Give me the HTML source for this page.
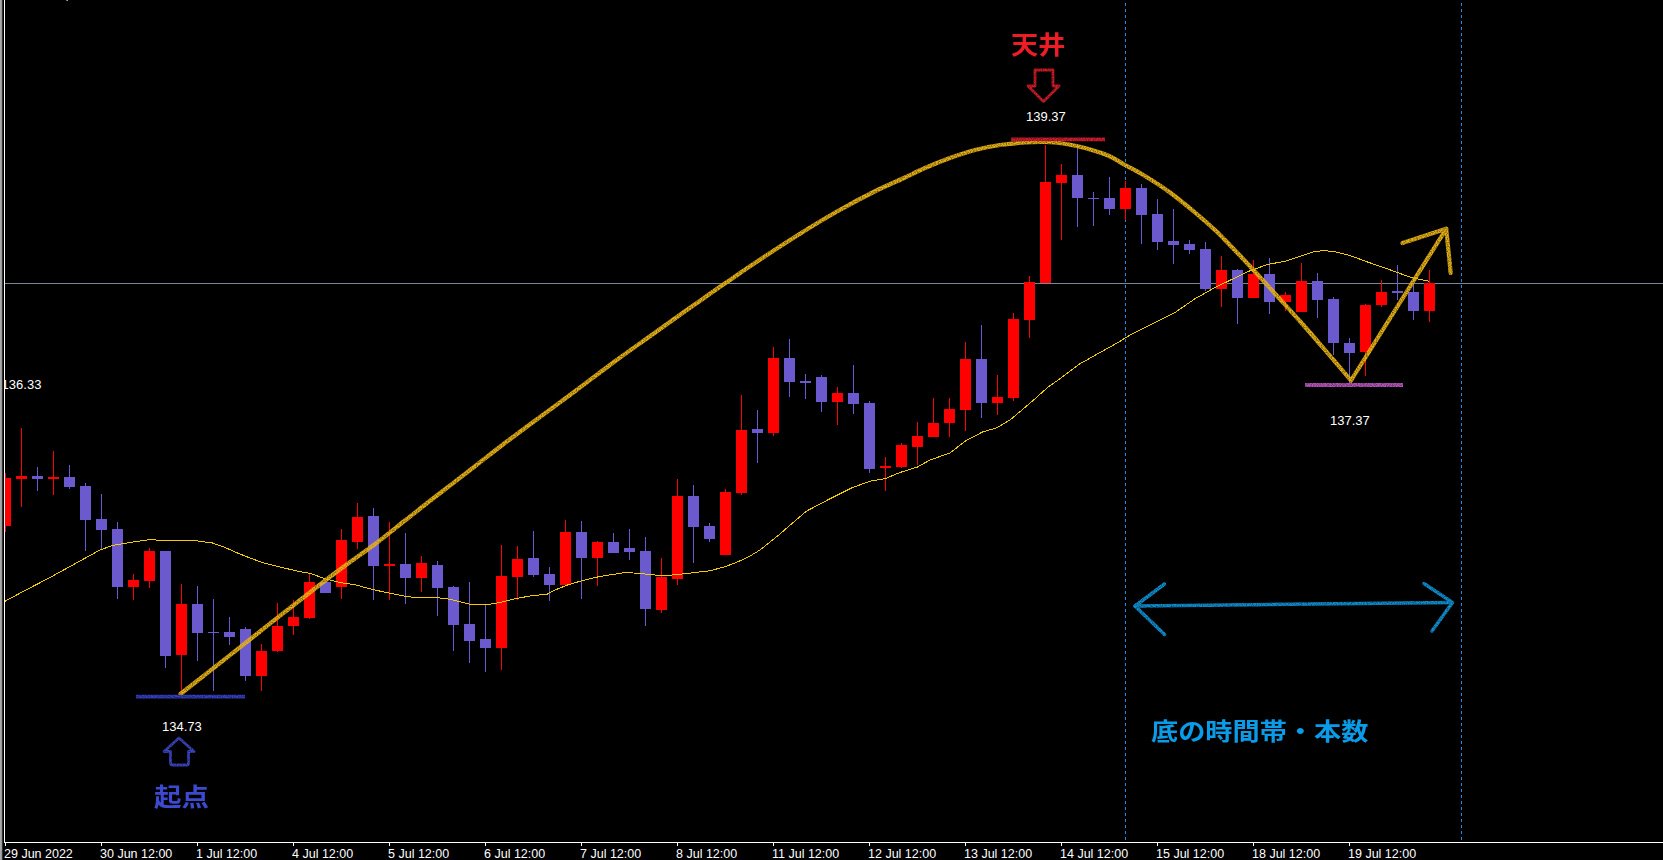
<!DOCTYPE html>
<html lang="ja"><head><meta charset="utf-8"><title>chart</title>
<style>
html,body{margin:0;padding:0;background:#000;}
body{width:1663px;height:860px;position:relative;overflow:hidden;font-family:"Liberation Sans","Noto Sans CJK JP",sans-serif;}
svg{position:absolute;left:0;top:0;}
.xl{position:absolute;top:847px;color:#fff;font-size:12.5px;line-height:14px;white-space:nowrap;}
.pl{position:absolute;color:#fff;font-size:13px;line-height:14px;white-space:nowrap;}
.jp{position:absolute;font-weight:bold;font-size:26.5px;line-height:30px;white-space:nowrap;transform-origin:left bottom;font-family:"Liberation Sans","Noto Sans CJK JP",sans-serif;}
#clip{position:absolute;left:5px;top:0;width:200px;height:842px;overflow:hidden;}
</style></head><body>
<svg width="1663" height="860" viewBox="0 0 1663 860">
<defs>
<filter id="rough" filterUnits="userSpaceOnUse" x="0" y="0" width="1663" height="860"><feTurbulence type="fractalNoise" baseFrequency="0.8" numOctaves="1" seed="3" result="n"/><feColorMatrix in="n" type="matrix" values="0 0 0 0 0  0 0 0 0 0  0 0 0 0 0  0 0 0 -1.3 1.5" result="a"/><feGaussianBlur in="SourceGraphic" stdDeviation="0.7" result="b"/><feComposite in="b" in2="a" operator="in"/></filter>
</defs>
<g shape-rendering="crispEdges">
<rect x="0" y="0" width="1" height="860" fill="#a8a8a8"/><rect x="1" y="0" width="1" height="860" fill="#9a9a9a"/><rect x="2" y="0" width="1" height="860" fill="#303030"/>
<rect x="4" y="0" width="1" height="843" fill="#fff"/>
<rect x="66" y="0" width="1" height="1" fill="#2a7fd0"/><rect x="67" y="0" width="1" height="1" fill="#f09020"/>
<rect x="5" y="283" width="1658" height="1" fill="#778899"/>
<line x1="1125.5" y1="3" x2="1125.5" y2="840" stroke="#1e8ae6" stroke-width="1" stroke-dasharray="3 3"/>
<line x1="1461.5" y1="3" x2="1461.5" y2="840" stroke="#1e8ae6" stroke-width="1" stroke-dasharray="3 3"/>
<rect x="5" y="473" width="1" height="59" fill="#ff0000"/><rect x="5" y="478" width="6" height="48" fill="#ff0000"/>
<rect x="21" y="428" width="1" height="79" fill="#ff0000"/><rect x="16" y="476" width="11" height="3" fill="#ff0000"/>
<rect x="37" y="467" width="1" height="24" fill="#6a5acd"/><rect x="32" y="476" width="11" height="3" fill="#6a5acd"/>
<rect x="53" y="451" width="1" height="44" fill="#ff0000"/><rect x="48" y="477" width="11" height="2" fill="#ff0000"/>
<rect x="69" y="465" width="1" height="24" fill="#6a5acd"/><rect x="64" y="477" width="11" height="10" fill="#6a5acd"/>
<rect x="85" y="483" width="1" height="68" fill="#6a5acd"/><rect x="80" y="486" width="11" height="34" fill="#6a5acd"/>
<rect x="101" y="494" width="1" height="55" fill="#6a5acd"/><rect x="96" y="519" width="11" height="11" fill="#6a5acd"/>
<rect x="117" y="522" width="1" height="77" fill="#6a5acd"/><rect x="112" y="529" width="11" height="58" fill="#6a5acd"/>
<rect x="133" y="574" width="1" height="26" fill="#ff0000"/><rect x="128" y="580" width="11" height="7" fill="#ff0000"/>
<rect x="149" y="548" width="1" height="40" fill="#ff0000"/><rect x="144" y="551" width="11" height="30" fill="#ff0000"/>
<rect x="165" y="551" width="1" height="117" fill="#6a5acd"/><rect x="160" y="551" width="11" height="105" fill="#6a5acd"/>
<rect x="181" y="584" width="1" height="110" fill="#ff0000"/><rect x="176" y="604" width="11" height="51" fill="#ff0000"/>
<rect x="197" y="586" width="1" height="75" fill="#6a5acd"/><rect x="192" y="604" width="11" height="29" fill="#6a5acd"/>
<rect x="213" y="599" width="1" height="92" fill="#6a5acd"/><rect x="208" y="632" width="11" height="1" fill="#6a5acd"/>
<rect x="229" y="617" width="1" height="28" fill="#6a5acd"/><rect x="224" y="632" width="11" height="5" fill="#6a5acd"/>
<rect x="245" y="627" width="1" height="54" fill="#6a5acd"/><rect x="240" y="629" width="11" height="47" fill="#6a5acd"/>
<rect x="261" y="644" width="1" height="47" fill="#ff0000"/><rect x="256" y="651" width="11" height="25" fill="#ff0000"/>
<rect x="277" y="603" width="1" height="49" fill="#ff0000"/><rect x="272" y="626" width="11" height="25" fill="#ff0000"/>
<rect x="293" y="600" width="1" height="35" fill="#ff0000"/><rect x="288" y="617" width="11" height="9" fill="#ff0000"/>
<rect x="309" y="574" width="1" height="45" fill="#ff0000"/><rect x="304" y="582" width="11" height="36" fill="#ff0000"/>
<rect x="325" y="582" width="1" height="11" fill="#6a5acd"/><rect x="320" y="582" width="11" height="11" fill="#6a5acd"/>
<rect x="341" y="529" width="1" height="70" fill="#ff0000"/><rect x="336" y="540" width="11" height="47" fill="#ff0000"/>
<rect x="357" y="503" width="1" height="46" fill="#ff0000"/><rect x="352" y="517" width="11" height="25" fill="#ff0000"/>
<rect x="373" y="508" width="1" height="92" fill="#6a5acd"/><rect x="368" y="516" width="11" height="50" fill="#6a5acd"/>
<rect x="389" y="522" width="1" height="78" fill="#ff0000"/><rect x="384" y="564" width="11" height="2" fill="#ff0000"/>
<rect x="405" y="533" width="1" height="71" fill="#6a5acd"/><rect x="400" y="564" width="11" height="14" fill="#6a5acd"/>
<rect x="421" y="556" width="1" height="36" fill="#ff0000"/><rect x="416" y="563" width="11" height="15" fill="#ff0000"/>
<rect x="437" y="561" width="1" height="55" fill="#6a5acd"/><rect x="432" y="565" width="11" height="23" fill="#6a5acd"/>
<rect x="453" y="586" width="1" height="65" fill="#6a5acd"/><rect x="448" y="587" width="11" height="38" fill="#6a5acd"/>
<rect x="469" y="582" width="1" height="81" fill="#6a5acd"/><rect x="464" y="624" width="11" height="17" fill="#6a5acd"/>
<rect x="485" y="605" width="1" height="67" fill="#6a5acd"/><rect x="480" y="639" width="11" height="9" fill="#6a5acd"/>
<rect x="501" y="545" width="1" height="125" fill="#ff0000"/><rect x="496" y="576" width="11" height="72" fill="#ff0000"/>
<rect x="517" y="546" width="1" height="54" fill="#ff0000"/><rect x="512" y="559" width="11" height="18" fill="#ff0000"/>
<rect x="533" y="531" width="1" height="46" fill="#6a5acd"/><rect x="528" y="558" width="11" height="17" fill="#6a5acd"/>
<rect x="549" y="567" width="1" height="34" fill="#6a5acd"/><rect x="544" y="574" width="11" height="11" fill="#6a5acd"/>
<rect x="565" y="520" width="1" height="65" fill="#ff0000"/><rect x="560" y="532" width="11" height="53" fill="#ff0000"/>
<rect x="581" y="521" width="1" height="78" fill="#6a5acd"/><rect x="576" y="532" width="11" height="26" fill="#6a5acd"/>
<rect x="597" y="541" width="1" height="45" fill="#ff0000"/><rect x="592" y="542" width="11" height="16" fill="#ff0000"/>
<rect x="613" y="533" width="1" height="20" fill="#6a5acd"/><rect x="608" y="542" width="11" height="11" fill="#6a5acd"/>
<rect x="629" y="529" width="1" height="31" fill="#6a5acd"/><rect x="624" y="548" width="11" height="4" fill="#6a5acd"/>
<rect x="645" y="537" width="1" height="89" fill="#6a5acd"/><rect x="640" y="551" width="11" height="58" fill="#6a5acd"/>
<rect x="661" y="558" width="1" height="55" fill="#ff0000"/><rect x="656" y="577" width="11" height="33" fill="#ff0000"/>
<rect x="677" y="479" width="1" height="106" fill="#ff0000"/><rect x="672" y="496" width="11" height="83" fill="#ff0000"/>
<rect x="693" y="485" width="1" height="78" fill="#6a5acd"/><rect x="688" y="496" width="11" height="31" fill="#6a5acd"/>
<rect x="709" y="523" width="1" height="19" fill="#6a5acd"/><rect x="704" y="526" width="11" height="13" fill="#6a5acd"/>
<rect x="725" y="489" width="1" height="66" fill="#ff0000"/><rect x="720" y="492" width="11" height="63" fill="#ff0000"/>
<rect x="741" y="395" width="1" height="100" fill="#ff0000"/><rect x="736" y="430" width="11" height="63" fill="#ff0000"/>
<rect x="757" y="410" width="1" height="53" fill="#6a5acd"/><rect x="752" y="429" width="11" height="4" fill="#6a5acd"/>
<rect x="773" y="347" width="1" height="89" fill="#ff0000"/><rect x="768" y="358" width="11" height="75" fill="#ff0000"/>
<rect x="789" y="339" width="1" height="58" fill="#6a5acd"/><rect x="784" y="358" width="11" height="24" fill="#6a5acd"/>
<rect x="805" y="374" width="1" height="25" fill="#6a5acd"/><rect x="800" y="381" width="11" height="2" fill="#6a5acd"/>
<rect x="821" y="375" width="1" height="37" fill="#6a5acd"/><rect x="816" y="377" width="11" height="25" fill="#6a5acd"/>
<rect x="837" y="387" width="1" height="38" fill="#ff0000"/><rect x="832" y="393" width="11" height="9" fill="#ff0000"/>
<rect x="853" y="365" width="1" height="49" fill="#6a5acd"/><rect x="848" y="393" width="11" height="11" fill="#6a5acd"/>
<rect x="869" y="401" width="1" height="72" fill="#6a5acd"/><rect x="864" y="403" width="11" height="66" fill="#6a5acd"/>
<rect x="885" y="457" width="1" height="34" fill="#ff0000"/><rect x="880" y="466" width="11" height="2" fill="#ff0000"/>
<rect x="901" y="443" width="1" height="25" fill="#ff0000"/><rect x="896" y="445" width="11" height="22" fill="#ff0000"/>
<rect x="917" y="422" width="1" height="43" fill="#ff0000"/><rect x="912" y="436" width="11" height="11" fill="#ff0000"/>
<rect x="933" y="398" width="1" height="39" fill="#ff0000"/><rect x="928" y="423" width="11" height="14" fill="#ff0000"/>
<rect x="949" y="398" width="1" height="39" fill="#ff0000"/><rect x="944" y="409" width="11" height="14" fill="#ff0000"/>
<rect x="965" y="342" width="1" height="89" fill="#ff0000"/><rect x="960" y="359" width="11" height="51" fill="#ff0000"/>
<rect x="981" y="325" width="1" height="93" fill="#6a5acd"/><rect x="976" y="359" width="11" height="44" fill="#6a5acd"/>
<rect x="997" y="375" width="1" height="40" fill="#ff0000"/><rect x="992" y="397" width="11" height="6" fill="#ff0000"/>
<rect x="1013" y="313" width="1" height="88" fill="#ff0000"/><rect x="1008" y="319" width="11" height="79" fill="#ff0000"/>
<rect x="1029" y="276" width="1" height="62" fill="#ff0000"/><rect x="1024" y="282" width="11" height="38" fill="#ff0000"/>
<rect x="1045" y="145" width="1" height="138" fill="#ff0000"/><rect x="1040" y="182" width="11" height="101" fill="#ff0000"/>
<rect x="1061" y="164" width="1" height="76" fill="#ff0000"/><rect x="1056" y="175" width="11" height="8" fill="#ff0000"/>
<rect x="1077" y="147" width="1" height="80" fill="#6a5acd"/><rect x="1072" y="175" width="11" height="23" fill="#6a5acd"/>
<rect x="1093" y="192" width="1" height="34" fill="#6a5acd"/><rect x="1088" y="198" width="11" height="1" fill="#6a5acd"/>
<rect x="1109" y="177" width="1" height="38" fill="#6a5acd"/><rect x="1104" y="198" width="11" height="11" fill="#6a5acd"/>
<rect x="1125" y="181" width="1" height="39" fill="#ff0000"/><rect x="1120" y="188" width="11" height="21" fill="#ff0000"/>
<rect x="1141" y="184" width="1" height="60" fill="#6a5acd"/><rect x="1136" y="188" width="11" height="27" fill="#6a5acd"/>
<rect x="1157" y="199" width="1" height="51" fill="#6a5acd"/><rect x="1152" y="214" width="11" height="28" fill="#6a5acd"/>
<rect x="1173" y="209" width="1" height="55" fill="#6a5acd"/><rect x="1168" y="241" width="11" height="4" fill="#6a5acd"/>
<rect x="1189" y="240" width="1" height="14" fill="#6a5acd"/><rect x="1184" y="244" width="11" height="6" fill="#6a5acd"/>
<rect x="1205" y="242" width="1" height="49" fill="#6a5acd"/><rect x="1200" y="249" width="11" height="40" fill="#6a5acd"/>
<rect x="1221" y="256" width="1" height="51" fill="#ff0000"/><rect x="1216" y="270" width="11" height="19" fill="#ff0000"/>
<rect x="1237" y="269" width="1" height="55" fill="#6a5acd"/><rect x="1232" y="270" width="11" height="28" fill="#6a5acd"/>
<rect x="1253" y="260" width="1" height="38" fill="#ff0000"/><rect x="1248" y="274" width="11" height="24" fill="#ff0000"/>
<rect x="1269" y="258" width="1" height="56" fill="#6a5acd"/><rect x="1264" y="274" width="11" height="28" fill="#6a5acd"/>
<rect x="1285" y="292" width="1" height="19" fill="#ff0000"/><rect x="1280" y="295" width="11" height="7" fill="#ff0000"/>
<rect x="1301" y="263" width="1" height="49" fill="#ff0000"/><rect x="1296" y="281" width="11" height="31" fill="#ff0000"/>
<rect x="1317" y="273" width="1" height="45" fill="#6a5acd"/><rect x="1312" y="281" width="11" height="19" fill="#6a5acd"/>
<rect x="1333" y="297" width="1" height="58" fill="#6a5acd"/><rect x="1328" y="299" width="11" height="44" fill="#6a5acd"/>
<rect x="1349" y="338" width="1" height="46" fill="#6a5acd"/><rect x="1344" y="343" width="11" height="10" fill="#6a5acd"/>
<rect x="1365" y="304" width="1" height="72" fill="#ff0000"/><rect x="1360" y="305" width="11" height="47" fill="#ff0000"/>
<rect x="1381" y="280" width="1" height="27" fill="#ff0000"/><rect x="1376" y="292" width="11" height="13" fill="#ff0000"/>
<rect x="1397" y="265" width="1" height="35" fill="#6a5acd"/><rect x="1392" y="291" width="11" height="2" fill="#6a5acd"/>
<rect x="1413" y="283" width="1" height="37" fill="#6a5acd"/><rect x="1408" y="292" width="11" height="19" fill="#6a5acd"/>
<rect x="1429" y="270" width="1" height="52" fill="#ff0000"/><rect x="1424" y="283" width="11" height="28" fill="#ff0000"/>
<rect x="4" y="842" width="1659" height="1" fill="#fff"/>
<rect x="5" y="842" width="1" height="4" fill="#fff"/><rect x="101" y="842" width="1" height="4" fill="#fff"/><rect x="197" y="842" width="1" height="4" fill="#fff"/><rect x="293" y="842" width="1" height="4" fill="#fff"/><rect x="389" y="842" width="1" height="4" fill="#fff"/><rect x="485" y="842" width="1" height="4" fill="#fff"/><rect x="581" y="842" width="1" height="4" fill="#fff"/><rect x="677" y="842" width="1" height="4" fill="#fff"/><rect x="773" y="842" width="1" height="4" fill="#fff"/><rect x="869" y="842" width="1" height="4" fill="#fff"/><rect x="965" y="842" width="1" height="4" fill="#fff"/><rect x="1061" y="842" width="1" height="4" fill="#fff"/><rect x="1157" y="842" width="1" height="4" fill="#fff"/><rect x="1253" y="842" width="1" height="4" fill="#fff"/><rect x="1349" y="842" width="1" height="4" fill="#fff"/>
</g>
<polyline points="5,601.25 25,590.5 50,577.5 75,563.75 100,550 112.5,545.5 130,542.5 150,539.5 162.5,540.5 175,540 187.5,540 200,541.25 212.5,543 225,547.5 237.5,553 250,558 262.5,562.5 275,565.75 287.5,568.75 300,571.75 310,573.25 325,578.75 340,582.5 355,584.75 372.5,589.5 390,593.25 405,596.25 415,597.5 440,598 450,599.25 470,604.25 487.5,604.5 500,602.5 515,598.75 530,596 547.5,594 555,590 567.5,585 580,581.25 597.5,577 612.5,574.5 625,572.5 637.5,573.25 655,575 665,575.75 680,574.25 695,572.5 710,570.75 725,566.75 738,561.75 750,556 760,550 778.75,535 806.25,511.25 830,498.75 852.5,487.5 870,481.25 885,478.75 900,472.5 917.5,467 930,460 950,453 965,441.25 982.5,432 996.25,428 1010,420 1022.5,409.5 1035,398.75 1047.5,387.5 1060,378.75 1080,363.75 1100,352.5 1118,342.5 1130,335 1160,320 1175,312.5 1195,298.75 1215,287.5 1228,281.25 1250,270.75 1267.5,264.5 1285,261.25 1300,256.25 1315,251.25 1325,250.75 1335,251.75 1350,255.5 1367.5,262 1380,266.25 1397.5,272.5 1412.5,278 1429.5,281.25" fill="none" stroke="#f0cc00" stroke-width="1" shape-rendering="crispEdges"/>
<g fill="none" stroke-linecap="round" stroke-linejoin="round" filter="url(#rough)">
<path d="M180.5,694 C193.8,683.6 234.7,651.3 260,631.5 C285.3,611.7 313.5,589.4 332.5,575 C351.5,560.6 361.7,554.1 373.75,545 C385.8,535.9 394.4,528.8 405,520.5 C415.6,512.2 425.8,504.0 437.5,495 C449.2,486.0 464.1,474.7 475,466.25 C485.9,457.8 493.4,451.8 503,444.5 C512.6,437.2 520.5,431.4 532.5,422.5 C544.5,413.6 561.2,401.5 575,391.25 C588.8,381.0 602.5,370.4 615,361.25 C627.5,352.1 638.3,344.6 650,336.25 C661.7,327.9 676.0,317.6 685,311.25 C694.0,304.9 697.1,302.8 704,298 C710.9,293.2 717.3,288.6 726.25,282.5 C735.2,276.4 745.2,269.4 757.5,261.25 C769.8,253.1 786.7,242.1 800,233.75 C813.3,225.4 825.0,218.3 837.5,211.25 C850.0,204.2 863.9,196.8 875,191.25 C886.1,185.7 895.7,181.9 904,178 C912.3,174.1 917.3,171.3 925,168 C932.7,164.7 941.7,161.0 950,158 C958.3,155.0 966.7,152.2 975,150 C983.3,147.8 991.7,146.2 1000,145 C1008.3,143.8 1017.5,143.0 1025,142.5 C1032.5,142.0 1038.3,141.8 1045,142 C1051.7,142.2 1058.3,142.8 1065,143.75 C1071.7,144.8 1077.8,146.0 1085,148 C1092.2,150.0 1101.3,152.7 1108,155.5 C1114.7,158.3 1118.8,161.6 1125,165 C1131.2,168.4 1137.5,171.4 1145,176 C1152.5,180.6 1161.7,186.4 1170,192.5 C1178.3,198.6 1187.5,206.2 1195,212.5 C1202.5,218.8 1210.0,225.4 1215,230 C1220.0,234.6 1219.2,234.0 1225,240 C1230.8,246.0 1241.7,257.3 1250,266.25 C1258.3,275.2 1266.7,284.6 1275,293.75 C1283.3,302.9 1291.7,311.9 1300,321.25 C1308.3,330.6 1316.5,340.1 1325,350 C1333.5,359.9 1346.7,375.4 1351,380.5" stroke="#e4b012" stroke-width="4.2"/>
<path d="M1351,380.5 L1446.2,228.8" stroke="#e4b012" stroke-width="4.2"/>
<path d="M1402.5,243 L1446.2,228.8 L1450.7,273" stroke="#e4b012" stroke-width="4.2"/>
<path d="M1011,139.4 L1105,139.4" stroke="#d41a30" stroke-width="3.8" stroke-linecap="butt"/>
<path d="M136,696.7 L245,696.7" stroke="#3640c0" stroke-width="3.8" stroke-linecap="butt"/>
<path d="M1305,385 L1403,385" stroke="#b452b8" stroke-width="3.8" stroke-linecap="butt"/>
<path d="M1035,70 L1053,70 L1053,86 L1059,86 L1043.5,101.5 L1028,86 L1035,86 Z" stroke="#d01c28" stroke-width="2.8"/>
<path d="M179,738 L194,751.5 L188.5,751.5 L188.5,763 Q188.5,765 186.5,765 L172.5,765 Q170.5,765 170.5,763 L170.5,751.5 L164,751.5 Z" stroke="#3a46c4" stroke-width="2.8"/>
<path d="M1135,606 L1452,602.5" stroke="#1190d2" stroke-width="3.5"/>
<path d="M1164.5,584 L1135,606 L1164.5,634.5" stroke="#1190d2" stroke-width="3.5"/>
<path d="M1424,583.5 L1452.5,602.5 L1432,631" stroke="#1190d2" stroke-width="3.5"/>
</g>
</svg>
<div id="clip"><div class="pl" style="left:-3.4px;top:378px">136.33</div></div>
<div class="pl" style="left:1026px;top:110px">139.37</div>
<div class="pl" style="left:162px;top:720px">134.73</div>
<div class="pl" style="left:1330px;top:414px">137.37</div>
<div class="jp" style="left:1011px;top:30px;color:#ee1c25;transform:scale(1.025,0.925)">天井</div>
<div class="jp" style="left:153.5px;top:782px;color:#3c4ad2;transform:scale(1.037,0.932)">起点</div>
<div class="jp" style="left:1151px;top:715px;color:#0a9ce8;font-size:27px;transform:scale(1.006,0.874)">底の時間帯・本数</div>
<div class="xl" style="left:4px">29 Jun 2022</div><div class="xl" style="left:100px">30 Jun 12:00</div><div class="xl" style="left:196px">1 Jul 12:00</div><div class="xl" style="left:292px">4 Jul 12:00</div><div class="xl" style="left:388px">5 Jul 12:00</div><div class="xl" style="left:484px">6 Jul 12:00</div><div class="xl" style="left:580px">7 Jul 12:00</div><div class="xl" style="left:676px">8 Jul 12:00</div><div class="xl" style="left:772px">11 Jul 12:00</div><div class="xl" style="left:868px">12 Jul 12:00</div><div class="xl" style="left:964px">13 Jul 12:00</div><div class="xl" style="left:1060px">14 Jul 12:00</div><div class="xl" style="left:1156px">15 Jul 12:00</div><div class="xl" style="left:1252px">18 Jul 12:00</div><div class="xl" style="left:1348px">19 Jul 12:00</div>
</body></html>
